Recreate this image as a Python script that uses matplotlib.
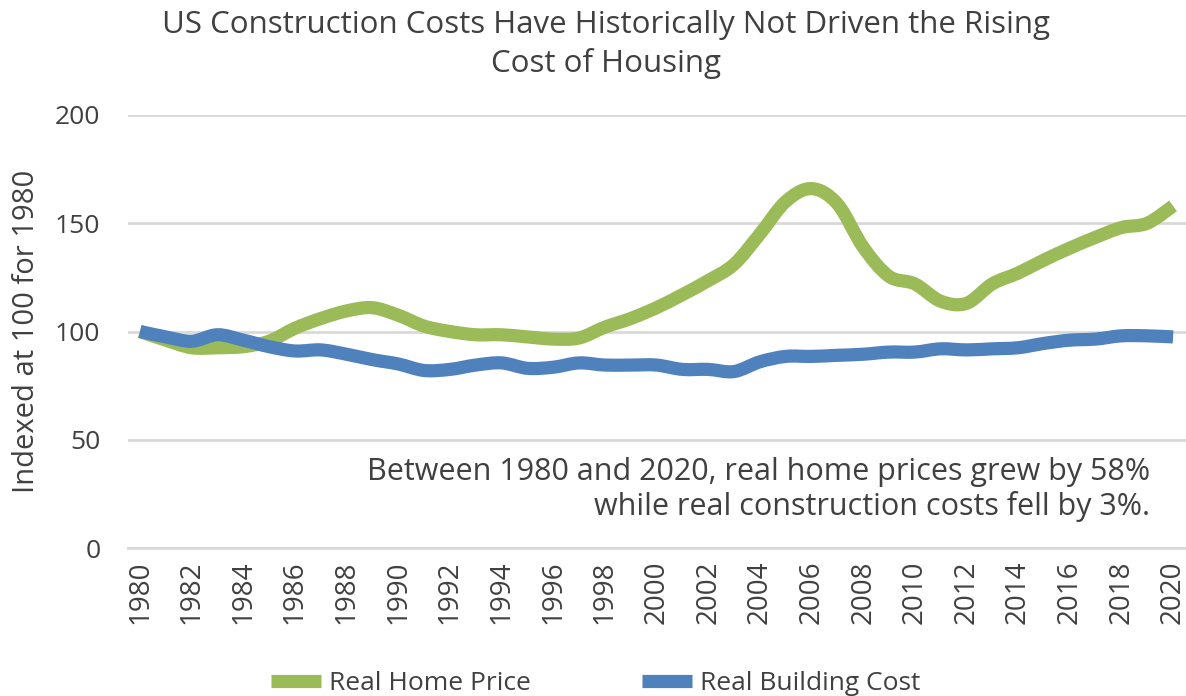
import numpy as np
from matplotlib import pyplot as plt
from matplotlib.path import Path
from matplotlib.patches import PathPatch
from matplotlib.lines import Line2D

# Data (index, 1980 = 100)
years = list(range(1980, 2021))
home_price = [100, 96, 92.5, 92.5, 93, 95.5, 101.5, 106, 109.5, 111,
              107.5, 102.5, 100, 98.5, 98.5, 97.5, 96.5, 97, 102, 106,
              111, 117, 123.5, 131, 145, 160, 166, 159, 139, 125.5,
              122, 114, 113, 122, 127, 133, 138.5, 143.5, 148, 150,
              158]
building_cost = [100, 97.5, 95.5, 98.5, 96, 93, 91, 91.5, 89.5, 87,
                 85, 82, 82.5, 84.5, 85.5, 83, 83.5, 85.5, 84.5, 84.5,
                 84.5, 82.5, 82.5, 81.5, 86, 88.5, 88.5, 89, 89.5, 90.5,
                 90.5, 92, 91.5, 92, 92.5, 94.5, 96, 96.5, 98, 98,
                 97.5]
series_names = ['Real Home Price', 'Real Building Cost']
series_colors = ['#9BBB59', '#4F81BD']

TEXT = '#404040'
FONT = 'Open Sans'


def smooth_path(x, y):
    # Excel-style smoothed line: cubic bezier through every data point
    pts = np.column_stack([x, y]).astype(float)
    padded = np.vstack([pts[0], pts, pts[-1]])
    verts = [pts[0]]
    codes = [Path.MOVETO]
    for i in range(len(pts) - 1):
        p_prev, p0, p1, p_next = padded[i], padded[i + 1], padded[i + 2], padded[i + 3]
        verts += [p0 + (p1 - p_prev) / 6, p1 - (p_next - p0) / 6, p1]
        codes += [Path.CURVE4] * 3
    return Path(verts, codes)


plt.rcParams['font.family'] = [FONT, 'DejaVu Sans']

fig = plt.figure(figsize=(11.86, 6.96), dpi=100)
ax = fig.add_axes([0.108, 0.2126, 0.892, 0.6222])

for values, color in zip([home_price, building_cost], series_colors):
    patch = PathPatch(smooth_path(years, values), facecolor='none', edgecolor=color,
                      linewidth=9.5, capstyle='butt', joinstyle='round', zorder=3)
    ax.add_patch(patch)

ax.set_xlim(1979.54, 2020.5)
ax.set_ylim(0, 200)
ax.set_yticks([0, 50, 100, 150, 200])
ax.set_xticks(years[::2])
ax.set_xticklabels([str(y) for y in years[::2]], rotation=90)
ax.grid(axis='y', color='#D9D9D9', linewidth=2)
ax.set_axisbelow(True)
for side in ['top', 'right', 'left']:
    ax.spines[side].set_visible(False)
ax.spines['bottom'].set_color('#D9D9D9')
ax.spines['bottom'].set_linewidth(2)
ax.tick_params(axis='both', length=0, labelsize=19, colors=TEXT)
ax.tick_params(axis='x', labelsize=20, pad=9)
ax.tick_params(axis='y', pad=20)

ax.set_ylabel('Indexed at 100 for 1980', fontsize=21, color=TEXT, labelpad=10)

fig.text(0.511, 0.985, 'US Construction Costs Have Historically Not Driven the Rising\nCost of Housing',
         ha='center', va='top', fontsize=22.5, color=TEXT, linespacing=1.3)

ax.text(2019.1, 27, 'Between 1980 and 2020, real home prices grew by 58%\nwhile real construction costs fell by 3%.',
        ha='right', va='center', fontsize=22, color=TEXT, linespacing=1.15)

handles = [Line2D([0], [0], color=c, linewidth=9.5, solid_capstyle='butt') for c in series_colors]
fig.legend(handles, series_names, loc='center', bbox_to_anchor=(0.502, 0.018), ncol=2,
           frameon=False, fontsize=19, handlelength=1.9, columnspacing=4.2,
           labelcolor=TEXT, handletextpad=0.3)

fig.savefig('out.png', dpi=100)
